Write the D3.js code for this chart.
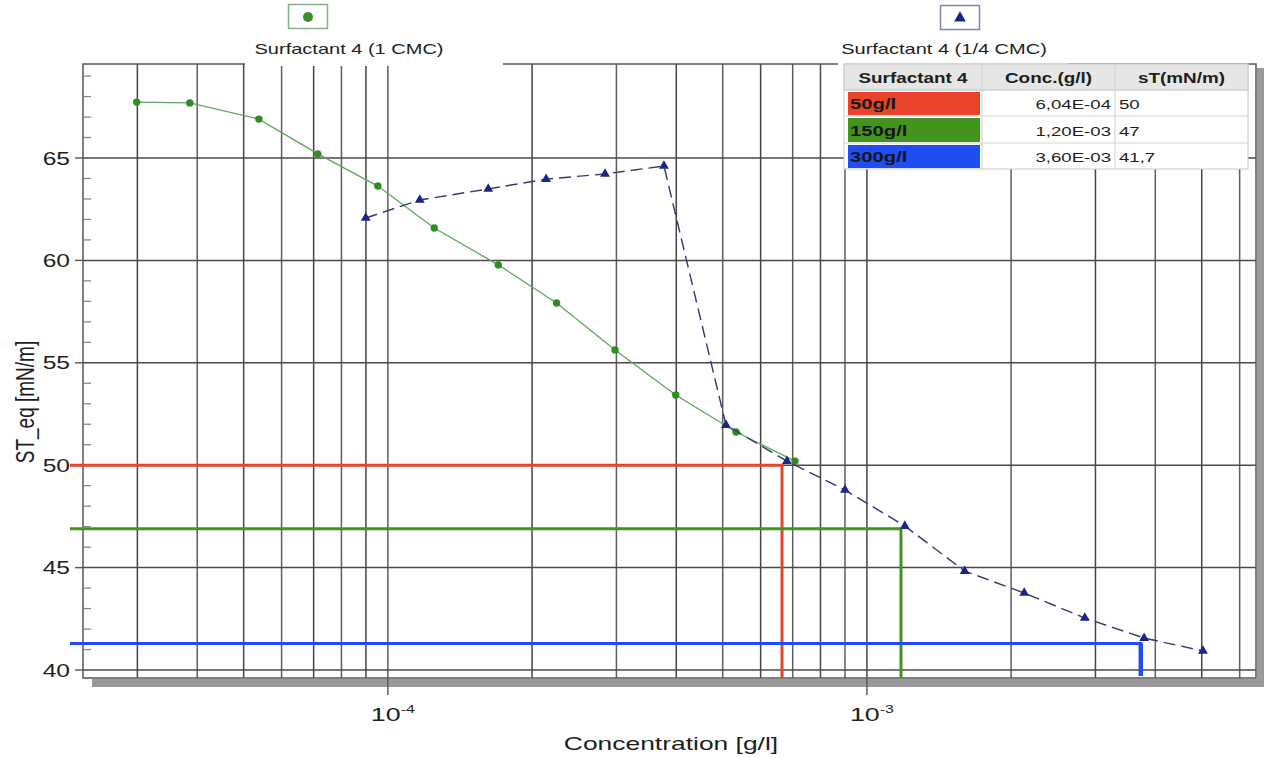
<!DOCTYPE html>
<html>
<head>
<meta charset="utf-8">
<script src="https://cdn.jsdelivr.net/npm/d3@7"></script>
<style>
  html, body { margin: 0; padding: 0; background: #fff; }
  svg { display: block; font-family: "Liberation Sans", Arial, sans-serif; }
</style>
</head>
<body>
<svg id="chart" width="1265" height="758"></svg>
<script>
// ---------------- DATA ----------------
const series1Name = "Surfactant 4 (1 CMC)";
const series1X = [2.99e-5, 3.86e-5, 5.38e-5, 7.14e-5, 9.53e-5, 1.25e-4, 1.70e-4, 2.25e-4, 2.98e-4, 3.99e-4, 5.33e-4, 7.08e-4];
const series1Y = [67.73, 67.69, 66.9, 65.2, 63.63, 61.58, 59.78, 57.92, 55.63, 53.43, 51.62, 50.2];

const series2Name = "Surfactant 4 (1/4 CMC)";
const series2X = [8.99e-5, 1.166e-4, 1.62e-4, 2.14e-4, 2.84e-4, 3.77e-4, 5.08e-4, 6.81e-4, 9.0e-4, 1.2e-3, 1.6e-3, 2.13e-3, 2.85e-3, 3.79e-3, 5.03e-3];
const series2Y = [62.07, 62.95, 63.49, 63.97, 64.22, 64.61, 51.96, 50.2, 48.79, 47.03, 44.83, 43.76, 42.54, 41.56, 40.93];

const refLabels = ["50g/l", "150g/l", "300g/l"];
const refX = [6.65e-4, 1.178e-3, 3.73e-3];
const refY = [50, 46.9, 41.3];
const refColors = ["#e8442a", "#45931f", "#1f4ef5"];

const tableHeader = ["Surfactant 4", "Conc.(g/l)", "sT(mN/m)"];
const tableConc = ["6,04E-04", "1,20E-03", "3,60E-03"];
const tableST = ["50", "47", "41,7"];

const yTicks = [40, 45, 50, 55, 60, 65];
const yMinorTicks = d3.range(40, 70, 1);
const xMajorTicks = [1e-4, 1e-3];
const xMajorLabels = ["-4", "-3"];
const xTitle = "Concentration [g/l]";
const yTitle = "ST_eq [mN/m]";

// ---------------- LAYOUT ----------------
const SX = 1.38; // horizontal stretch of the reference text
const L = 83, R = 1256, T = 64, B = 678;
const x = d3.scaleLog().domain([2.31e-5, 6.49e-3]).range([L, R]);
const y = d3.scaleLinear().domain([39.61, 69.59]).range([B, T]);

const svg = d3.select("#chart");
function txt(g, tx, ty, str, size, anchor, weight, sx) {
  return g.append("text")
    .attr("transform", `translate(${tx},${ty}) scale(${sx || SX},1)`)
    .attr("text-anchor", anchor || "start")
    .attr("font-size", size).attr("font-weight", weight || "normal")
    .attr("fill", "#1e1e1e").text(str);
}

// shadow
svg.append("rect").attr("x", 92).attr("y", 679).attr("width", R + 7 - 92).attr("height", 8).attr("fill", "#9a9a9a");
svg.append("rect").attr("x", R + 1).attr("y", 68).attr("width", 7).attr("height", 619).attr("fill", "#9a9a9a");
svg.append("rect").attr("x", L).attr("y", T).attr("width", R - L).attr("height", B - T).attr("fill", "#fff");

// vertical grid (log)
const gridX = [];
for (let k = -5; k <= -3; k++) for (let m = 1; m <= 9; m++) {
  const v = m * Math.pow(10, k);
  if (v > x.domain()[0] && v < x.domain()[1]) gridX.push(v);
}
svg.append("g").selectAll("line").data(gridX).join("line")
  .attr("x1", d => x(d)).attr("x2", d => x(d)).attr("y1", T).attr("y2", B)
  .attr("stroke", (d, i) => i % 2 ? "#5e5e5e" : "#444").attr("stroke-width", 1.5);

// horizontal grid
svg.append("g").selectAll("line").data(yTicks).join("line")
  .attr("x1", L).attr("x2", R).attr("y1", d => y(d)).attr("y2", d => y(d))
  .attr("stroke", "#4a4a4a").attr("stroke-width", 1.5);

// y minor ticks (inside)
svg.append("g").selectAll("line").data(yMinorTicks.filter(v => v % 5 !== 0)).join("line")
  .attr("x1", L + 1).attr("x2", L + 8).attr("y1", d => y(d)).attr("y2", d => y(d))
  .attr("stroke", "#888").attr("stroke-width", 1.3);

// y major ticks (outside)
svg.append("g").selectAll("line").data(yTicks).join("line")
  .attr("x1", L - 8).attr("x2", L).attr("y1", d => y(d)).attr("y2", d => y(d))
  .attr("stroke", "#555").attr("stroke-width", 1.4);

// y tick labels
svg.append("g").selectAll("text").data(yTicks).join("text")
  .attr("transform", d => `translate(70,${y(d) + 6.5}) scale(1.33,1)`)
  .attr("text-anchor", "end").attr("font-size", 18.5).attr("fill", "#1e1e1e").text(d => d);

// x major ticks
svg.append("g").selectAll("line").data(xMajorTicks).join("line")
  .attr("x1", d => x(d)).attr("x2", d => x(d)).attr("y1", B).attr("y2", B + 17)
  .attr("stroke", "#555").attr("stroke-width", 1.4);

const xl = svg.append("g").selectAll("text").data(xMajorTicks).join("text")
  .attr("transform", d => `translate(${x(d) + 5},721) scale(1.45,1)`)
  .attr("text-anchor", "middle").attr("font-size", 18.5).attr("fill", "#1e1e1e");
xl.append("tspan").text("10");
xl.append("tspan").attr("dy", -8).attr("font-size", 11).text((d, i) => xMajorLabels[i]);

// border
svg.append("rect").attr("x", L).attr("y", T).attr("width", R - L).attr("height", B - T)
  .attr("fill", "none").attr("stroke", "#555").attr("stroke-width", 1.5);

// reference lines
refX.forEach((rx, i) => {
  svg.append("path")
    .attr("d", `M70,${y(refY[i])}H${x(rx)}V${i === 2 ? B - 2 : B}`)
    .attr("fill", "none").attr("stroke", refColors[i]).attr("stroke-width", 3);
});
svg.append("line").attr("x1", x(refX[2])).attr("x2", x(refX[2]))
  .attr("y1", y(refY[2])).attr("y2", B - 2).attr("stroke", refColors[2]).attr("stroke-width", 4.5);

// series 1 (green)
const s1 = series1X.map((v, i) => [v, series1Y[i]]);
svg.append("path").datum(s1)
  .attr("d", d3.line().x(d => x(d[0])).y(d => y(d[1])))
  .attr("fill", "none").attr("stroke", "#5fa65f").attr("stroke-width", 1.3);
svg.append("g").selectAll("circle").data(s1).join("circle")
  .attr("cx", d => x(d[0])).attr("cy", d => y(d[1])).attr("r", 3.7).attr("fill", "#2f8c22");

// series 2 (navy dashed)
const s2 = series2X.map((v, i) => [v, series2Y[i]]);
svg.append("path").datum(s2)
  .attr("d", d3.line().x(d => x(d[0])).y(d => y(d[1])))
  .attr("fill", "none").attr("stroke", "#34386e").attr("stroke-width", 1.4)
  .attr("stroke-dasharray", "12,6");
svg.append("g").selectAll("path.tri").data(s2).join("path").attr("class", "tri")
  .attr("transform", d => `translate(${x(d[0])},${y(d[1])})`)
  .attr("d", d3.symbol(d3.symbolTriangle, 42)).attr("fill", "#1b2585");

// legend label backgrounds (cover top border)
svg.append("rect").attr("x", 245).attr("y", 30).attr("width", 258).attr("height", 36).attr("fill", "#fff");
svg.append("rect").attr("x", 838).attr("y", 30).attr("width", 230).attr("height", 36).attr("fill", "#fff");

// legend 1
svg.append("rect").attr("x", 288.5).attr("y", 4.5).attr("width", 39).attr("height", 24)
  .attr("fill", "#fff").attr("stroke", "#86b086").attr("stroke-width", 1.5);
svg.append("circle").attr("cx", 308).attr("cy", 17).attr("r", 5).attr("fill", "#3a8f2a");
txt(svg, 349, 54, series1Name, 14.5, "middle");

// legend 2
svg.append("rect").attr("x", 940.5).attr("y", 5.5).attr("width", 39).attr("height", 24)
  .attr("fill", "#fff").attr("stroke", "#8282aa").attr("stroke-width", 1.5);
svg.append("path").attr("transform", "translate(960,18)")
  .attr("d", d3.symbol(d3.symbolTriangle, 60)).attr("fill", "#1b2585");
txt(svg, 944, 54, series2Name, 14.5, "middle");

// table
const colX = [844, 982, 1115, 1248];
const rowY = [64, 90, 116, 143, 169];
const tg = svg.append("g");
tg.append("rect").attr("x", colX[0]).attr("y", rowY[0]).attr("width", colX[3] - colX[0]).attr("height", rowY[4] - rowY[0])
  .attr("fill", "#fff").attr("stroke", "#c8c8c8");
tg.append("rect").attr("x", colX[0]).attr("y", rowY[0]).attr("width", colX[3] - colX[0]).attr("height", rowY[1] - rowY[0])
  .attr("fill", "#e6e6e6").attr("stroke", "#c8c8c8");
[1, 2].forEach(c => tg.append("line").attr("x1", colX[c]).attr("x2", colX[c]).attr("y1", rowY[0]).attr("y2", rowY[4]).attr("stroke", "#cfcfcf"));
[1, 2, 3].forEach(r => tg.append("line").attr("x1", colX[0]).attr("x2", colX[3]).attr("y1", rowY[r]).attr("y2", rowY[r]).attr("stroke", "#d4d4d4"));
tableHeader.forEach((h, c) => txt(tg, (colX[c] + colX[c + 1]) / 2, rowY[1] - 7, h, 14, "middle", "bold", 1.35));
refLabels.forEach((lab, r) => {
  tg.append("rect").attr("x", colX[0] + 4).attr("y", rowY[r + 1] + 2).attr("width", colX[1] - colX[0] - 6)
    .attr("height", rowY[r + 2] - rowY[r + 1] - 3).attr("fill", refColors[r]);
  txt(tg, colX[0] + 6, rowY[r + 2] - 7, lab, 14.5, "start", "bold", 1.4).attr("fill", "#151515");
  txt(tg, colX[2] - 4, rowY[r + 2] - 7, tableConc[r], 13.5, "end");
  txt(tg, colX[2] + 4, rowY[r + 2] - 7, tableST[r], 13.5, "start");
});

// axis titles
txt(svg, 671, 750, xTitle, 19, "middle", "normal", 1.39);
svg.append("text").attr("transform", "translate(34,402) scale(1.35,1) rotate(-90)").attr("text-anchor", "middle")
  .attr("font-size", 19).attr("fill", "#1e1e1e").text(yTitle);
</script>
</body>
</html>
